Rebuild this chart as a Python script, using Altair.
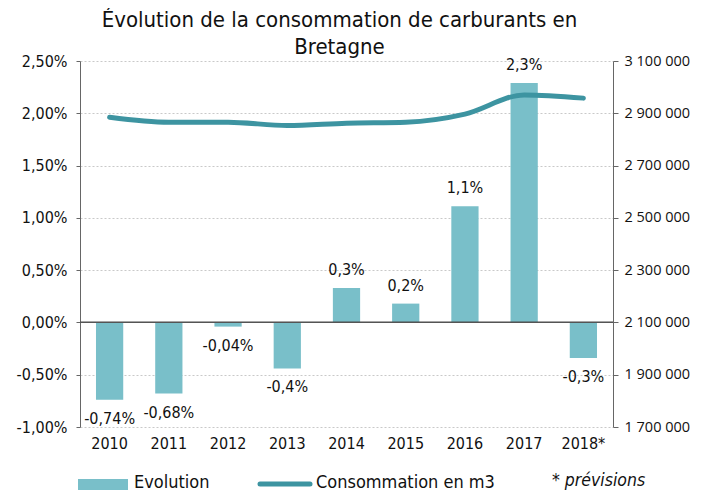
import altair as alt
import pandas as pd

years = ["2010", "2011", "2012", "2013", "2014", "2015", "2016", "2017", "2018*"]
evolution = [-0.74, -0.68, -0.04, -0.44, 0.33, 0.18, 1.11, 2.29, -0.34]
labels = ["-0,74%", "-0,68%", "-0,04%", "-0,4%", "0,3%", "0,2%", "1,1%", "2,3%", "-0,3%"]
consommation = [2885000, 2866000, 2866000, 2853000, 2862000, 2866000, 2897000, 2970000, 2958000]

df = pd.DataFrame({"annee": years, "evol": evolution, "lab": labels, "conso": consommation})

FONT = "DejaVu Sans Condensed, Liberation Sans Narrow, Roboto Condensed, Roboto, sans-serif"
BAR = "#79bfc9"
LINE = "#3d94a1"
W, H = 533, 366

x = alt.X("annee:N", sort=years, title=None,
          scale=alt.Scale(paddingInner=0.54, paddingOuter=0.27),
          axis=alt.Axis(domain=False, ticks=False, labelAngle=0, labelFontSize=16,
                        labelPadding=8, labelColor="#111", labelFont=FONT))

yscale = alt.Scale(domain=[-1, 2.5], nice=False, zero=False)
yl = alt.Y("evol:Q", title=None, scale=yscale,
           axis=alt.Axis(values=[-1, -0.5, 0, 0.5, 1, 1.5, 2, 2.5], orient="left",
                         labelExpr="replace(replace(format(datum.value, '.2f'), '.', ','), '\u2212', '-') + '%'",
                         labelFontSize=16, labelFont=FONT, labelColor="#111", labelPadding=9,
                         grid=True, gridColor="#c9c9c9", gridDash=[2, 2],
                         domainColor="#666", tickColor="#666", tickSize=4))

base = alt.Chart(df)

bars = base.mark_bar(color=BAR).encode(x=x, y=yl)

zero = base.mark_rule(color="#555", strokeWidth=1).encode(y=alt.datum(0))

pos_lab = base.transform_filter("datum.evol >= 0").mark_text(
    baseline="bottom", dy=-10, fontSize=16, font=FONT, color="#111").encode(
    x=alt.X("annee:N", sort=years), y=alt.Y("evol:Q"), text="lab:N")
neg_lab = base.transform_filter("datum.evol < 0").mark_text(
    baseline="top", dy=11, fontSize=16, font=FONT, color="#111").encode(
    x=alt.X("annee:N", sort=years), y=alt.Y("evol:Q"), text="lab:N")

left = alt.layer(bars, zero, pos_lab, neg_lab)

line = base.mark_line(color=LINE, strokeWidth=5, interpolate="monotone", strokeCap="round").encode(
    x=alt.X("annee:N", sort=years),
    y=alt.Y("conso:Q", title=None,
            scale=alt.Scale(domain=[1700000, 3100000], nice=False, zero=False),
            axis=alt.Axis(values=[1700000, 1900000, 2100000, 2300000, 2500000, 2700000, 2900000, 3100000],
                          orient="right", grid=False,
                          labelExpr="replace(replace(format(datum.value, ','), ',', ' '), ',', ' ')",
                          labelFontSize=14.5, labelFont="Open Sans, DejaVu Sans, sans-serif",
                          labelColor="#111", labelPadding=6,
                          domainColor="#666", tickColor="#666", tickSize=5)))

# legend
leg_bar = alt.Chart(pd.DataFrame({"k": ["Evolution"]})).mark_rect(color=BAR).encode(
    x=alt.value(-2), x2=alt.value(48), y=alt.value(418), y2=alt.value(429))
leg_line = alt.Chart(pd.DataFrame({"k": ["Consommation en m3"]})).mark_rule(
    color=LINE, strokeWidth=5, strokeCap="round").encode(
    x=alt.value(180), x2=alt.value(230), y=alt.value(423))
leg_txt = alt.Chart(pd.DataFrame({"t": ["Evolution", "Consommation en m3"], "px": [54, 236]})).mark_text(
    align="left", baseline="middle", fontSize=18, font=FONT, color="#111").encode(
    x=alt.X("px:Q", scale=None), y=alt.value(422), text="t:N")
leg_prev = alt.Chart(pd.DataFrame({"t": ["* prévisions"]})).mark_text(
    align="left", baseline="middle", fontSize=17.5, font=FONT, fontStyle="italic", color="#111").encode(
    x=alt.value(472), y=alt.value(420), text="t:N")

chart = alt.layer(left, line, leg_bar, leg_line, leg_txt, leg_prev).resolve_scale(y="independent").properties(
    width=W, height=H,
    autosize=alt.AutoSizeParams(type="none"),
    padding={"left": 72, "top": 53, "right": 86, "bottom": 66},
    title=alt.Title(["Évolution de la consommation de carburants en", "Bretagne"],
                    anchor="middle", fontSize=22, font=FONT, fontWeight="normal",
                    color="#111", lineHeight=27, offset=-6, dx=-7),
).configure_view(stroke=None)

chart.save("out.html", embed_options={"renderer": "svg", "actions": False})
